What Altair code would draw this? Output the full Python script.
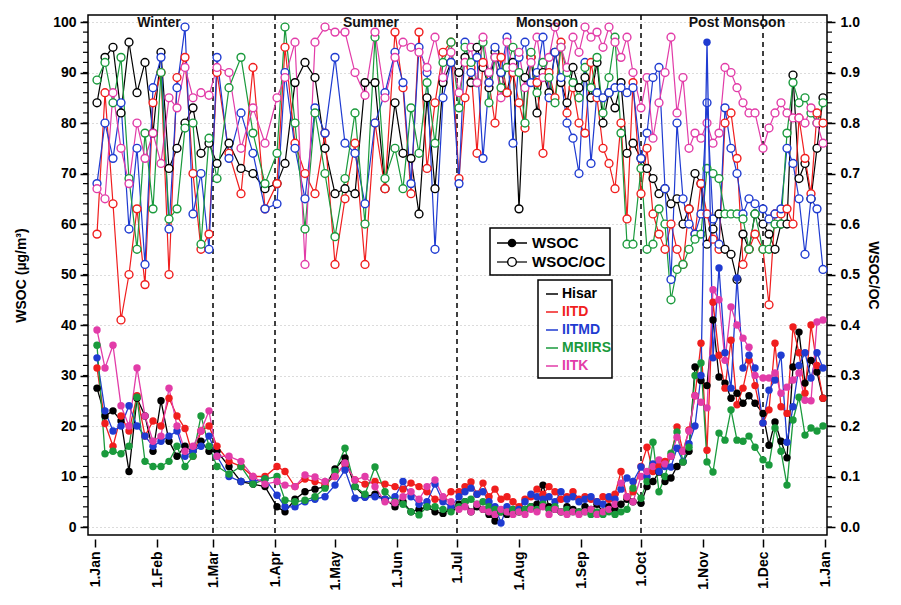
import altair as alt
import pandas as pd

SITES = ["Hisar", "IITD", "IITMD", "MRIIRS", "IITK"]
COLORS = ["#000000", "#f01e1e", "#1f3bd1", "#1a9a3c", "#e23ca8"]

# Sampling days, counted from 1 Jan
DAYS = [
    1, 5, 9, 13, 17, 21, 25, 29,
    33, 37, 41, 45, 49, 53, 57,
    61, 67, 73, 79, 85,
    91, 95, 100, 105, 110, 115,
    120, 125, 130, 135, 140, 145,
    150, 154, 158, 162, 166, 170, 174, 178,
    182, 185, 188, 191, 194, 197, 200, 203, 206, 209,
    212, 215, 218, 221, 224, 227, 230, 233, 236, 239, 242,
    245, 248, 251, 254, 257, 260, 263, 266, 269,
    273, 276, 279, 282, 285, 288, 291, 294, 297, 300,
    303, 306, 309, 312, 315, 318, 321, 324, 327, 330,
    334, 337, 340, 343, 346, 349, 352, 355, 358, 361, 364,
]

# WSOC (µg/m3)
WSOC_HISAR = [
    27.5, 22, 23, 21, 11, 25.5, 22, 15,
    25, 17, 14, 16, 15, 17, 15,
    15, 12, 9, 8.5, 8,
    4, 3, 5.5, 7, 7.5, 8,
    11.5, 13.7, 8, 6, 6.5, 5.5,
    4, 5, 3, 3.5, 4, 3, 2.7, 3.5,
    4.5, 5, 3, 4, 3.5, 2.5, 1.2, 3, 2.5, 3,
    3, 3.5, 4, 4.5, 8.3, 4, 3.5, 3, 4, 3.5, 3,
    4, 3.5, 4.5, 3, 4, 3.5, 4.5, 5.5, 5,
    4.7, 8, 9, 10.9, 9, 9.7, 12, 12.9, 15, 31.7,
    29, 28, 41, 29.7, 28.5, 25.5, 26.5, 24.5, 26, 24.5,
    22.5, 16.2, 20.8, 17, 13.7, 31.7, 38.6, 28.5, 33, 30.7, 25.5,
]
WSOC_IITD = [
    31.5, 20.5, 16, 22, 19, 26, 18, 21,
    20, 25.5, 22, 19.5, 14, 19, 20,
    16, 13, 12, 10, 10,
    12, 11, 8, 9.5, 9, 8.5,
    10, 12.5, 9.3, 8.5, 9, 8.5,
    8, 7.5, 8.7, 8, 7, 5.5, 5.3, 7,
    7, 8, 8.9, 6.5, 8.7, 6, 7.5, 5.5, 6, 5,
    4, 5.5, 6, 7.5, 6.5, 8, 7, 5.5, 6, 7, 5.5,
    6, 5.5, 5, 6, 5.5, 6.5, 11, 6, 7,
    12, 15.8, 11, 12, 13, 14, 19.8, 15, 19.2, 26,
    36.4, 15.2, 44.5, 34, 27.5, 37, 24.2, 27.5, 33, 28,
    20.6, 23.2, 36.4, 23.8, 22.5, 39.6, 34.5, 26.5, 40, 32, 25.5,
]
WSOC_IITMD = [
    33.5, 23, 19, 20, 24, 20, 18, 16,
    17, 18, 19, 14, 15, 16, 18,
    14, 10, 9, 9, 9.5,
    6.3, 4, 4, 5, 5.5, 6,
    8.3, 11.3, 5.7, 5.9, 6, 5.5,
    6, 9, 6, 4.5, 5, 8.5, 5, 4,
    6, 7, 7.7, 6.5, 7, 5, 4, 0.8, 4, 3.5,
    3.5, 5, 6.5, 6, 5.5, 6, 5, 7, 5.5, 6, 5,
    5.5, 6, 5, 4.5, 6, 5.5, 7.5, 9.7, 9,
    11.9, 10, 12.5, 11, 12, 11.9, 15.6, 13, 16.5, 20,
    30, 96, 33.5, 51.3, 34.5, 27.5, 49.3, 31.5, 34, 31.5,
    20.6, 27.1, 29.1, 34, 16.8, 23.8, 32, 34.5, 29.5, 34.5, 31.5,
]
WSOC_MRIIRS = [
    36, 14.5, 15, 14.5, 16, 25.7, 13, 12,
    12, 13, 16, 12, 14, 22, 16,
    12, 10.5, 12, 8.5, 9.5,
    10, 5.3, 5, 5.3, 6, 7.7,
    11, 15.6, 8, 6.5, 11.9, 7,
    5, 4.5, 3, 2.4, 4, 4, 3.5, 3,
    4, 5, 5.5, 4.5, 5, 4, 3.5, 3, 3, 3.5,
    3, 3.5, 4, 3.5, 4.5, 3.5, 4, 3, 3.5, 3, 3,
    3, 2.5, 3, 2.5, 3, 2.5, 3, 3.5, 7.7,
    5.7, 9, 16.8, 7, 10, 14.6, 18.8, 12.9, 15.8, 30,
    32.5, 12.9, 10.9, 18.6, 17.2, 23.2, 17.2, 17, 18, 15.8,
    13.3, 12.3, 19.6, 15, 8.3, 21.2, 25.7, 18.2, 19.6, 19, 20,
]
WSOC_IITK = [
    39, 31.5, 36, 24, 20, 31.5, 22, 17,
    18, 27.5, 20, 15, 16, 19, 23,
    14, 14, 13, 10, 8.5,
    9, 8.3, 8, 10.3, 9.9, 9,
    10, 12.7, 9.3, 10, 8, 5,
    4.8, 6, 7, 5.5, 8, 9.3, 6, 5,
    3.5, 4, 3, 4.5, 3.5, 3, 2.5, 3.5, 3, 2.5,
    3, 2.5, 3.5, 3, 4, 2.5, 3.5, 3, 2.5, 3, 2.5,
    3, 3.5, 2.5, 3, 3.5, 4.5, 8.7, 6, 5,
    10, 11, 12, 13.3, 12.5, 14, 17.8, 15, 19, 26,
    24.7, 23.6, 47, 45, 33, 43.6, 40, 37.4, 35.6, 30,
    29.5, 29.5, 30.5, 26.5, 27.7, 29.1, 30.5, 25.1, 25, 40.6, 41,
]

# WSOC/OC ratio
RATIO_HISAR = [
    0.84, 0.93, 0.95, 0.82, 0.96, 0.86, 0.92, 0.78,
    0.94, 0.71, 0.75, 0.80, 0.83, 0.74, 0.76,
    0.72, 0.76, 0.71, 0.70, 0.67,
    0.68, 0.72, 0.88, 0.92, 0.89, 0.75,
    0.66, 0.67, 0.66, 0.88, 0.88, 0.67,
    0.84, 0.74, 0.73, 0.62, 0.85, 0.67, 0.88, 0.92,
    0.90, 0.93, 0.88, 0.95, 0.91, 0.87, 0.94, 0.90, 0.86, 0.92,
    0.63, 0.89, 0.93, 0.82, 0.90, 0.86, 0.94, 0.88, 0.84, 0.91, 0.87,
    0.89, 0.85, 0.92, 0.80, 0.86, 0.83, 0.88, 0.74, 0.76,
    0.73, 0.71, 0.69, 0.66, 0.67, 0.64, 0.65, 0.60, 0.63, 0.70,
    0.68, 0.56, 0.59, 0.62, 0.55, 0.54, 0.49, 0.58, 0.55, 0.62,
    0.60, 0.58, 0.55, 0.60, 0.60, 0.895, 0.69, 0.72, 0.65, 0.75, 0.85,
]
RATIO_IITD = [
    0.58, 0.86, 0.64, 0.41, 0.50, 0.63, 0.48, 0.84,
    0.90, 0.50, 0.89, 0.93, 0.70, 0.55, 0.58,
    0.90, 0.74, 0.66, 0.91, 0.63,
    0.68, 0.95, 0.76, 0.70, 0.66, 0.78,
    0.52, 0.65, 0.76, 0.52, 0.80, 0.67,
    0.98, 0.87, 0.66, 0.98, 0.71, 0.84, 0.94, 0.96,
    0.69, 0.85, 0.91, 0.74, 0.92, 0.88, 0.80, 0.93, 0.86, 0.90,
    0.84, 0.79, 0.93, 0.88, 0.74, 0.90, 0.85, 0.96, 0.82, 0.87, 0.80,
    0.78, 0.92, 0.85, 0.75, 0.72, 0.67, 0.80, 0.61, 0.88,
    0.66, 0.75, 0.62, 0.58, 0.55, 0.60, 0.55, 0.52, 0.63, 0.58,
    0.68, 0.62, 0.57, 0.55, 0.80, 0.82, 0.73, 0.52, 0.55, 0.58,
    0.55, 0.44, 0.62, 0.62, 0.63, 0.60, 0.81, 0.73, 0.66, 0.82, 0.80,
]
RATIO_IITMD = [
    0.68, 0.80, 0.73, 0.84, 0.59, 0.75, 0.52, 0.87,
    0.93, 0.59, 0.87, 0.99, 0.62, 0.70, 0.55,
    0.93, 0.73, 0.82, 0.74, 0.63,
    0.64, 0.90, 0.75, 0.65, 0.83, 0.78,
    0.93, 0.76, 0.74, 0.64, 0.80, 0.86,
    0.94, 0.88, 0.68, 0.95, 0.90, 0.55, 0.85, 0.92,
    0.68, 0.96, 0.90, 0.93, 0.73, 0.88, 0.95, 0.90, 0.97, 0.76,
    0.93, 0.96, 0.88, 0.90, 0.97, 0.85, 0.94, 0.89, 0.80, 0.77, 0.70,
    0.92, 0.72, 0.86, 0.85, 0.86, 0.87, 0.87, 0.86, 0.87,
    0.73, 0.78, 0.89, 0.91, 0.67, 0.49, 0.80, 0.65, 0.60, 0.58,
    0.62, 0.84, 0.61, 0.56, 0.83, 0.75, 0.70, 0.62, 0.65, 0.64,
    0.63, 0.61, 0.62, 0.63, 0.75, 0.72, 0.65, 0.54, 0.65, 0.63, 0.51,
]
RATIO_MRIIRS = [
    0.885, 0.92, 0.84, 0.93, 0.69, 0.55, 0.78, 0.63,
    0.90, 0.61, 0.63, 0.79, 0.80, 0.56, 0.77,
    0.69, 0.87, 0.93, 0.78, 0.68,
    0.74, 0.99, 0.80, 0.59, 0.82, 0.70,
    0.575, 0.69, 0.82, 0.60, 0.97, 0.69,
    0.75, 0.67, 0.83, 0.74, 0.88, 0.76, 0.92, 0.96,
    0.83, 0.95, 0.92, 0.88, 0.96, 0.84, 0.93, 0.87, 0.91, 0.95,
    0.90, 0.80, 0.94, 0.86, 0.92, 0.89, 0.84, 0.95, 0.90, 0.88, 0.85,
    0.91, 0.87, 0.93, 0.82, 0.89, 0.97, 0.78, 0.56, 0.56,
    0.71, 0.55, 0.56, 0.63, 0.60, 0.45, 0.51, 0.52, 0.55, 0.57,
    0.58, 0.71, 0.70, 0.69, 0.62, 0.62, 0.62, 0.61, 0.55, 0.62,
    0.55, 0.55, 0.60, 0.60, 0.78, 0.88, 0.84, 0.85, 0.82, 0.80, 0.84,
]
RATIO_IITK = [
    0.67, 0.65, 0.86, 0.75, 0.68, 0.80, 0.73, 0.78,
    0.72, 0.85, 0.83, 0.91, 0.85, 0.86, 0.855,
    0.91, 0.90, 0.75, 0.83, 0.76,
    0.85, 0.89, 0.96, 0.52, 0.96, 0.99,
    0.98, 0.98, 0.90, 0.855, 0.98, 0.85,
    0.93, 0.96, 0.95, 0.94, 0.91, 0.97, 0.89, 0.94,
    0.86, 0.92, 0.95, 0.88, 0.97, 0.90, 0.93, 0.85, 0.96, 0.91,
    0.94, 0.87, 0.92, 0.97, 0.89, 0.93, 0.99, 0.95, 0.91, 0.97, 0.94,
    0.99, 0.97, 0.98, 0.95, 0.99, 0.96, 0.93, 0.97, 0.90,
    0.83, 0.89, 0.77, 0.84, 0.90, 0.97, 0.82, 0.89, 0.75, 0.78,
    0.77, 0.80, 0.76, 0.78, 0.91, 0.90, 0.87, 0.84, 0.82, 0.82,
    0.75, 0.79, 0.82, 0.84, 0.82, 0.81, 0.81, 0.80, 0.83, 0.80, 0.76,
]

SEASON_DIVIDERS = ["2019-03-01", "2019-04-01", "2019-07-01", "2019-10-01", "2019-12-01"]
SEASON_NAMES = ["Winter", "Summer", "Monsoon", "Post Monsoon"]
SEASON_LABEL_DATES = ["2019-02-02", "2019-05-19", "2019-08-15", "2019-11-18"]

FONT = "Liberation Sans"
W, H = 739, 520
Y_DOM = [-1.58, 101.39]
R_DOM = [-0.0158, 1.0139]

wsoc = [WSOC_HISAR, WSOC_IITD, WSOC_IITMD, WSOC_MRIIRS, WSOC_IITK]
ratio = [RATIO_HISAR, RATIO_IITD, RATIO_IITMD, RATIO_MRIIRS, RATIO_IITK]

start = pd.Timestamp("2019-01-01")
rows = []
for s, site in enumerate(SITES):
    for i, d in enumerate(DAYS):
        rows.append({
            "date": start + pd.Timedelta(days=d),
            "site": site,
            "order": s,
            "wsoc": wsoc[s][i],
            "ratio": ratio[s][i],
        })
df = pd.DataFrame(rows)

x_enc = alt.X(
    "date:T",
    scale=alt.Scale(domain=[
        alt.DateTime(year=2018, month=12, date=28, hours=12),
        alt.DateTime(year=2020, month=1, date=2),
    ]),
    axis=alt.Axis(
        title=None,
        values=[alt.DateTime(year=2019 + (m // 12), month=(m % 12) + 1, date=1) for m in range(13)],
        labelExpr="'1.' + timeFormat(datum.value, '%b')",
        labelAngle=270,
        tickSize=8,
        offset=4,
        domain=False,
        grid=False,
        tickColor="black",
        tickWidth=1.5,
        labelPadding=4,
    ),
)
color_enc = alt.Color("site:N", scale=alt.Scale(domain=SITES, range=COLORS), legend=None)

base = alt.Chart(df)

ratio_layer = base.mark_line(
    strokeWidth=1.2,
    point=alt.OverlayMarkDef(filled=False, fill="white", size=62, strokeWidth=1.4, opacity=1),
).encode(
    x=x_enc,
    y=alt.Y(
        "ratio:Q",
        scale=alt.Scale(domain=R_DOM, nice=False, zero=False),
        axis=alt.Axis(
            orient="right",
            title="WSOC/OC",
            values=[round(v * 0.1, 1) for v in range(11)],
            format=".1f",
            tickSize=8,
            domain=False,
            grid=False,
            tickColor="black",
            tickWidth=1.5,
            labelPadding=5,
            titlePadding=6,
            titleAngle=90,
        ),
    ),
    color=color_enc,
    detail="site:N",
    order="date:T",
)

wsoc_layer = base.mark_line(
    strokeWidth=1.3,
    point=alt.OverlayMarkDef(filled=True, size=55, opacity=1),
).encode(
    x=x_enc,
    y=alt.Y(
        "wsoc:Q",
        scale=alt.Scale(domain=Y_DOM, nice=False, zero=False),
        axis=alt.Axis(
            orient="left",
            title="WSOC (µg/m³)",
            values=list(range(0, 101, 10)),
            tickSize=8,
            domain=False,
            grid=True,
            gridColor="#b8b8b8",
            gridDash=[1, 3],
            gridWidth=1,
            tickColor="black",
            tickWidth=1.5,
            labelPadding=4,
            titlePadding=24,
        ),
    ),
    color=color_enc,
    detail="site:N",
    order="date:T",
)

# season boundaries and names
div_df = pd.DataFrame({"date": pd.to_datetime(SEASON_DIVIDERS)})
dividers = alt.Chart(div_df).mark_rule(
    color="black", strokeDash=[5, 4], strokeWidth=1.5
).encode(x=alt.X("date:T"))

season_df = pd.DataFrame({"date": pd.to_datetime(SEASON_LABEL_DATES), "name": SEASON_NAMES})
seasons = alt.Chart(season_df).mark_text(
    font=FONT, fontSize=14, fontWeight="bold", color="#111111", baseline="middle"
).encode(x=alt.X("date:T"), y=alt.value(8), text="name:N")

# minor ticks on both value axes
left_minor = alt.Chart(pd.DataFrame({"v": list(range(0, 101, 2))})).mark_rule(
    color="black", strokeWidth=1.2
).encode(
    y=alt.Y("v:Q", scale=alt.Scale(domain=Y_DOM, nice=False, zero=False), axis=None),
    x=alt.value(-5), x2=alt.value(0),
)
right_minor = alt.Chart(pd.DataFrame({"v": [k / 50 for k in range(51)]})).mark_rule(
    color="black", strokeWidth=1.2
).encode(
    y=alt.Y("v:Q", scale=alt.Scale(domain=R_DOM, nice=False, zero=False), axis=None),
    x=alt.value(W), x2=alt.value(W + 5),
)

# legend for marker style
one = pd.DataFrame({"k": [0]})
box1 = alt.Chart(one).mark_rect(fill="white", stroke="black", strokeWidth=1.5).encode(
    x=alt.value(402), x2=alt.value(522), y=alt.value(213), y2=alt.value(260)
)
lg_line1 = alt.Chart(one).mark_rule(color="black", strokeWidth=1.5).encode(
    x=alt.value(409), x2=alt.value(439), y=alt.value(228)
)
lg_pt1 = alt.Chart(one).mark_point(filled=True, color="black", size=75, opacity=1).encode(
    x=alt.value(424), y=alt.value(228)
)
lg_line2 = alt.Chart(one).mark_rule(color="black", strokeWidth=1.2).encode(
    x=alt.value(409), x2=alt.value(439), y=alt.value(247)
)
lg_pt2 = alt.Chart(one).mark_point(filled=False, fill="white", color="black", size=75,
                                   strokeWidth=1.4, opacity=1).encode(
    x=alt.value(424), y=alt.value(247)
)
style_txt = alt.Chart(pd.DataFrame({"t": ["WSOC", "WSOC/OC"], "py": [228, 247]})).mark_text(
    font=FONT, fontSize=15, fontWeight="bold", align="left", baseline="middle", color="black"
).encode(x=alt.value(444), y=alt.Y("py:Q", scale=None), text="t:N")

# legend for sites
box2 = alt.Chart(one).mark_rect(fill="white", stroke="black", strokeWidth=1.5).encode(
    x=alt.value(450), x2=alt.value(524), y=alt.value(265), y2=alt.value(363)
)
site_df = pd.DataFrame({"site": SITES, "py": [279 + 18 * i for i in range(len(SITES))]})
site_lines = alt.Chart(site_df).mark_rule(strokeWidth=1.5).encode(
    x=alt.value(458), x2=alt.value(470), y=alt.Y("py:Q", scale=None), color=color_enc
)
site_txt = alt.Chart(site_df).mark_text(
    font=FONT, fontSize=14, fontWeight="bold", align="left", baseline="middle"
).encode(x=alt.value(474), y=alt.Y("py:Q", scale=None), text="site:N", color=color_enc)

chart = alt.layer(
    dividers, ratio_layer, wsoc_layer, seasons, left_minor, right_minor,
    box1, lg_line1, lg_pt1, lg_line2, lg_pt2, style_txt,
    box2, site_lines, site_txt,
).resolve_scale(y="independent").properties(
    width=W,
    height=H,
    padding={"left": 88, "top": 15, "right": 74, "bottom": 70},
    autosize="none",
    background="white",
).configure_view(
    stroke="black", strokeWidth=1.5
).configure_axis(
    labelFont=FONT, labelFontSize=14, labelFontWeight="bold", labelColor="black",
    titleFont=FONT, titleFontSize=14, titleFontWeight="bold", titleColor="black",
)

chart.save("out.html", embed_options={"renderer": "svg", "actions": False})
